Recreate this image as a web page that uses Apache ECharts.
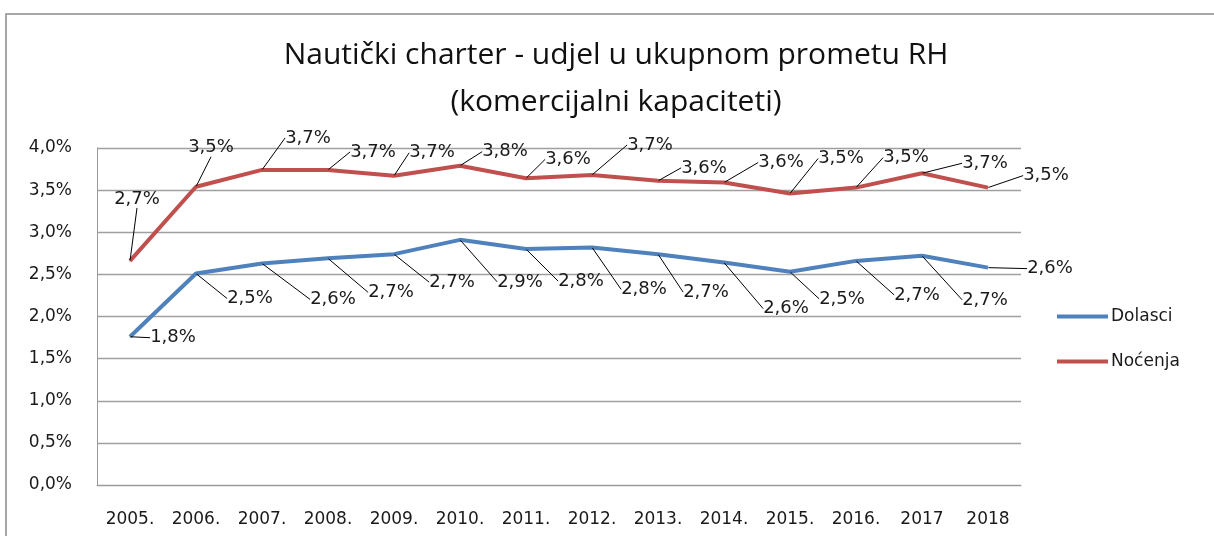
<!DOCTYPE html>
<html>
<head>
<meta charset="utf-8">
<script src="https://cdn.jsdelivr.net/npm/echarts@6/dist/echarts.min.js"></script>
<style>
html,body{margin:0;padding:0;background:#fff;}
#c{width:1214px;height:536px;}
</style>
</head>
<body>
<div id="c"></div>
<script>
const years = ['2005.', '2006.', '2007.', '2008.', '2009.', '2010.', '2011.', '2012.', '2013.', '2014.', '2015.', '2016.', '2017', '2018'];
const dolasci = [1.76, 2.51, 2.63, 2.69, 2.74, 2.91, 2.80, 2.82, 2.74, 2.64, 2.53, 2.66, 2.72, 2.58];
const nocenja = [2.66, 3.54, 3.74, 3.74, 3.67, 3.79, 3.64, 3.68, 3.61, 3.59, 3.46, 3.53, 3.70, 3.53];
const seriesNames = ['Dolasci', 'Noćenja'];
const yTicks = { min: 0, max: 4, interval: 0.5 };

// label offsets (style only): [dx, dy] from the point
const dolasciLabelOffsets = [[43,1],[54,25],[71,36],[63,34],[58,28],[60,42],[55,32],[52,42],[48,38],[62,46],[52,27],[61,34],[63,44],[62,1]];
const nocenjaLabelOffsets = [[7,-62],[15,-39],[46,-32],[45,-18],[38,-23],[45,-14],[42,-19],[58,-30],[46,-13],[57,-20],[51,-35],[50,-30],[63,-10],[58,-12]];

const FONT = 'DejaVu Sans';
const fmt = v => v.toFixed(1).replace('.', ',') + '%';

const chart = echarts.init(document.getElementById('c'));
function mkSeries(name, data, color, offs) {
  return {
    name: name,
    type: 'line',
    data: data,
    symbol: 'circle',
    symbolSize: 1,
    showSymbol: true,
    itemStyle: { color: color },
    lineStyle: { color: color, width: 4 },
    label: {
      show: true,
      position: 'inside',
      formatter: p => fmt(p.value),
      color: '#1a1a1a',
      fontFamily: FONT,
      fontSize: 18
    },
    labelLine: { show: true, lineStyle: { color: '#000', width: 1 } },
    labelLayout: function (p) {
      const o = offs[p.dataIndex];
      return { dx: o[0], dy: o[1] };
    },
    emphasis: { disabled: true },
    animation: false
  };
}
chart.setOption({
  animation: false,
  backgroundColor: '#fff',
  title: {
    text: 'Nautički charter - udjel u ukupnom prometu RH\n(komercijalni kapaciteti)',
    left: 611,
    top: 27,
    textAlign: 'center',
    textStyle: { fontFamily: 'Open Sans', fontSize: 30, fontWeight: 'normal', color: '#111', lineHeight: 47 }
  },
  graphic: [{
    type: 'rect',
    shape: { x: 6, y: 14, width: 1240, height: 560 },
    style: { fill: 'none', stroke: '#8a8a8a', lineWidth: 1.5 },
    silent: true
  }],
  legend: {
    orient: 'vertical',
    left: 1052,
    top: 303,
    itemGap: 28,
    icon: 'rect',
    itemWidth: 51,
    itemHeight: 4,
    data: seriesNames,
    textStyle: { fontFamily: FONT, fontSize: 17, color: '#1a1a1a', padding: [0, 0, 0, -2] }
  },
  grid: { left: 97, right: 193, top: 148, bottom: 51 },
  xAxis: {
    type: 'category',
    data: years,
    boundaryGap: true,
    axisLine: { show: true, lineStyle: { color: '#9a9a9a', width: 1 } },
    axisTick: { show: false },
    axisLabel: { color: '#1a1a1a', fontFamily: FONT, fontSize: 17, margin: 26, interval: 0 }
  },
  yAxis: {
    type: 'value',
    min: yTicks.min, max: yTicks.max, interval: yTicks.interval,
    axisLine: { show: true, lineStyle: { color: '#9a9a9a', width: 1 } },
    axisTick: { show: false },
    splitLine: { lineStyle: { color: '#a0a0a0', width: 1.3 } },
    axisLabel: { color: '#1a1a1a', fontFamily: FONT, fontSize: 17, margin: 25, formatter: v => fmt(v) }
  },
  series: [
    mkSeries(seriesNames[0], dolasci, '#4F81BD', dolasciLabelOffsets),
    mkSeries(seriesNames[1], nocenja, '#C0504D', nocenjaLabelOffsets)
  ]
});
</script>
</body>
</html>
